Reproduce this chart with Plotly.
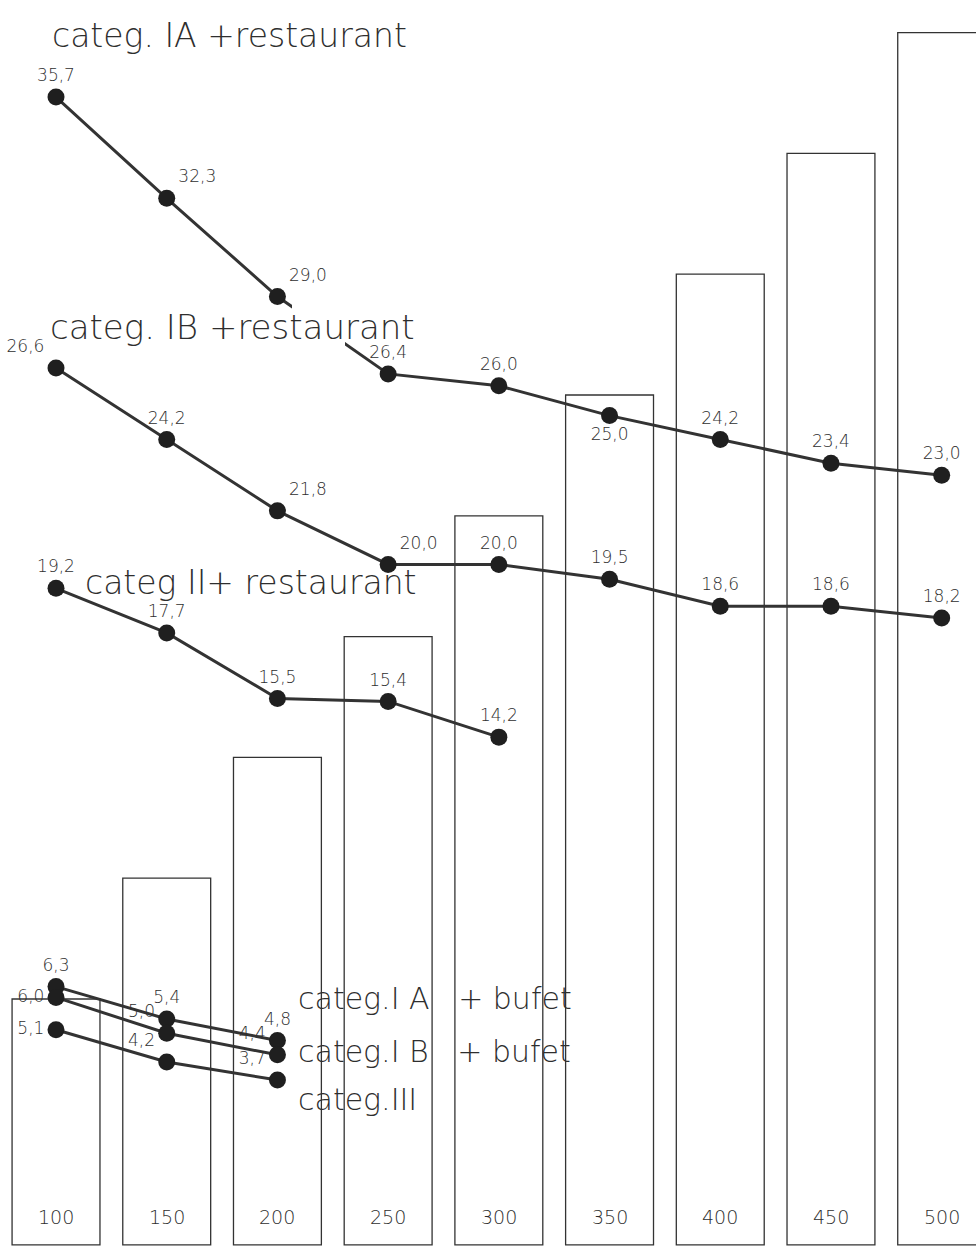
import plotly.graph_objects as go

# beds per hotel (bars) and cost indices per category (lines)
beds = [100, 150, 200, 250, 300, 350, 400, 450, 500]
ia_rest = [35.7, 32.3, 29.0, 26.4, 26.0, 25.0, 24.2, 23.4, 23.0]
ib_rest = [26.6, 24.2, 21.8, 20.0, 20.0, 19.5, 18.6, 18.6, 18.2]
ii_rest = [19.2, 17.7, 15.5, 15.4, 14.2]
ia_bufet = [6.3, 5.4, 4.8]
ib_bufet = [6.0, 5.0, 4.4]
iii_bufet = [5.1, 4.2, 3.7]

W, H = 976, 1248
FONT = "DejaVu Sans"
INK = "#2e2e2e"


def fmt(v):
    return f"{v:.1f}".replace(".", ",")


def px_y(p):
    return 1 - p / H


fig = go.Figure()

# outline bars, base slightly below zero so the bottom edge shows
fig.add_trace(go.Bar(
    x=beds, y=[b + 1.8 for b in beds], base=-1.8, width=39.7,
    marker=dict(color="rgba(0,0,0,0)", line=dict(color="#333333", width=1.3)),
    hoverinfo="skip",
))

# restaurant lines on y2, bufet lines on y3
series = [
    (ia_rest, "y2", ["top center", "top right", "top right", "top center", "top center",
                     "bottom center", "top center", "top center", "top center"]),
    (ib_rest, "y2", ["top left", "top center", "top right", "top right", "top center",
                     "top center", "top center", "top center", "top center"]),
    (ii_rest, "y2", ["top center"] * 5),
    (ia_bufet, "y3", ["top center", "top center", "top center"]),
    (ib_bufet, "y3", ["middle left", "top left", "top left"]),
    (iii_bufet, "y3", ["middle left", "top left", "top left"]),
]

for vals, ax, pos in series:
    fig.add_trace(go.Scatter(
        x=beds[:len(vals)], y=vals, yaxis=ax,
        mode="lines+markers+text",
        text=[fmt(v) for v in vals], textposition=pos,
        textfont=dict(family=FONT, size=17, color=INK, weight=200),
        line=dict(color="#333333", width=3),
        marker=dict(color="#1f1f1f", size=17),
    ))

# white patch where the IA line passes behind the IB caption
fig.add_shape(type="rect", xref="paper", yref="paper", layer="above",
              x0=292 / W, x1=345 / W, y0=px_y(346), y1=px_y(304),
              fillcolor="white", line=dict(width=0))

annots = [
    ("categ. IA +restaurant", 50, 35, 33),
    ("categ. IB +restaurant", 48, 327, 34),
    ("categ II+ restaurant", 83, 582, 33),
    ("categ.I A   + bufet", 296, 998, 30),
    ("categ.I B   + bufet", 296, 1051, 30),
    ("categ.III", 296, 1099, 30),
]
for txt, x0, y0, sz in annots:
    fig.add_annotation(
        text=txt, x=x0 / W, y=px_y(y0), xref="paper", yref="paper",
        xanchor="left", yanchor="middle", showarrow=False,
        font=dict(family=FONT, size=sz, color=INK, weight=200),
    )

for b in beds:
    fig.add_annotation(
        text=str(b), x=b, xref="x", y=px_y(1217), yref="paper",
        xanchor="center", yanchor="middle", showarrow=False,
        font=dict(family=FONT, size=19, color=INK, weight=200),
    )

fig.update_layout(
    width=W, height=H,
    margin=dict(l=0, r=0, t=0, b=0),
    paper_bgcolor="white", plot_bgcolor="white",
    showlegend=False,
    xaxis=dict(visible=False, range=[74.7, 515.5]),
    yaxis=dict(visible=False, range=[-3.06, 513.5]),
    yaxis2=dict(visible=False, overlaying="y", range=[-2.96, 38.96]),
    yaxis3=dict(visible=False, overlaying="y", range=[-0.98, 33.78]),
)

fig.write_html("out.html", config={"displayModeBar": False},
               post_script="document.body.style.margin='0';")
